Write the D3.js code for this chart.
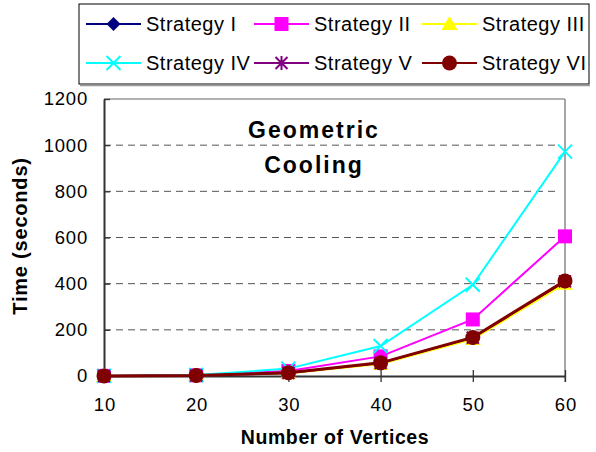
<!DOCTYPE html>
<html><head><meta charset="utf-8">
<script src="https://cdn.jsdelivr.net/npm/d3@7"></script>
<style>body{margin:0;background:#fff}svg{display:block;font-family:"Liberation Sans",Arial,sans-serif}</style>
</head><body><svg id="c" width="596" height="452"></svg>
<script>
const vertices = [10, 20, 30, 40, 50, 60];
const yTicks = [0, 200, 400, 600, 800, 1000, 1200];
const seriesNames = ["Strategy I", "Strategy II", "Strategy III", "Strategy IV", "Strategy V", "Strategy VI"];
const strategyI   = [0.5, 2, 13, 55, 165, 408];
const strategyII  = [0.5, 3, 22, 85, 245, 605];
const strategyIII = [0.5, 2, 12, 52, 160, 400];
const strategyIV  = [0.5, 4, 32, 130, 395, 972];
const strategyV   = [0.5, 2, 13, 56, 166, 410];
const strategyVI  = [0.5, 2, 14, 57, 167, 412];
const seriesValues = [strategyI, strategyII, strategyIII, strategyIV, strategyV, strategyVI];
const colors = ["#000080", "#FF00FF", "#FFFF00", "#00FFFF", "#800080", "#800000"];
const markers = ["diamond", "square", "triangle", "x", "star", "circle"];
const widths = [2, 2, 2, 2, 2, 3];

const svg = d3.select("#c");
const L = 104, R = 565, T = 99, B = 376;
const x = d3.scalePoint().domain(vertices).range([L, R]);
const y = d3.scaleLinear().domain([0, 1200]).range([B, T]);

// gridlines
svg.append("g").selectAll("line").data(yTicks.filter(d => d > 0 && d < 1200)).join("line")
  .attr("x1", L).attr("x2", R - 5).attr("y1", d => y(d)).attr("y2", d => y(d))
  .attr("stroke", "#555").attr("stroke-width", 1).attr("stroke-dasharray", "7,5");
// top and right border
svg.append("line").attr("x1", L).attr("x2", R).attr("y1", y(1200)).attr("y2", y(1200)).attr("stroke", "#999").attr("stroke-width", 1.5);
svg.append("line").attr("x1", R).attr("x2", R).attr("y1", y(1200)).attr("y2", B + 6).attr("stroke", "#888").attr("stroke-width", 1.5);

// axes
const yAxis = svg.append("g").attr("transform", `translate(${L},0)`)
  .call(d3.axisLeft(y).tickValues(yTicks).tickFormat(d3.format("d")).tickSizeInner(6).tickSizeOuter(0).tickPadding(10));
yAxis.selectAll(".tick line").attr("x2", 6);
const xAxis = svg.append("g").attr("transform", `translate(0,${B})`)
  .call(d3.axisBottom(x).tickSizeInner(6).tickSizeOuter(0).tickPadding(16));
xAxis.selectAll(".tick line").attr("y1", -6);
svg.selectAll(".domain").attr("stroke", "#333").attr("stroke-width", 2);
svg.selectAll(".tick line").attr("stroke", "#333").attr("stroke-width", 1.3);
svg.selectAll(".tick text").attr("font-size", 18.5).attr("letter-spacing", 0.8).attr("fill", "#000")
  .attr("font-family", "Liberation Sans, Arial, sans-serif");
xAxis.selectAll(".tick text").attr("dx", 0.4);

// axis titles
svg.append("text").attr("x", 335).attr("y", 444).attr("text-anchor", "middle")
  .attr("font-size", 19.5).attr("letter-spacing", 0.6).attr("font-weight", "bold").text("Number of Vertices");
svg.append("text").attr("transform", `translate(27,${236}) rotate(-90)`).attr("text-anchor", "middle")
  .attr("font-size", 20).attr("letter-spacing", 0.8).attr("font-weight", "bold").text("Time (seconds)");

// chart title
svg.append("text").attr("x", 314).attr("y", 138).attr("text-anchor", "middle")
  .attr("font-size", 23).attr("letter-spacing", 2).attr("font-weight", "bold").text("Geometric");
svg.append("text").attr("x", 314).attr("y", 173).attr("text-anchor", "middle")
  .attr("font-size", 23).attr("letter-spacing", 2).attr("font-weight", "bold").text("Cooling");

function drawMarker(g, type, color, cx, cy) {
  if (type === "diamond") {
    g.append("path").attr("d", `M${cx},${cy-7}L${cx+7},${cy}L${cx},${cy+7}L${cx-7},${cy}Z`).attr("fill", color);
  } else if (type === "square") {
    g.append("rect").attr("x", cx-7).attr("y", cy-7).attr("width", 14).attr("height", 14).attr("fill", color);
  } else if (type === "triangle") {
    g.append("path").attr("d", `M${cx},${cy-8}L${cx+8},${cy+6}L${cx-8},${cy+6}Z`).attr("fill", color);
  } else if (type === "x") {
    g.append("path").attr("d", `M${cx-7},${cy-7}L${cx+7},${cy+7}M${cx-7},${cy+7}L${cx+7},${cy-7}`).attr("stroke", color).attr("stroke-width", 2);
  } else if (type === "star") {
    g.append("path").attr("d", `M${cx-6},${cy-6}L${cx+6},${cy+6}M${cx-6},${cy+6}L${cx+6},${cy-6}M${cx},${cy-7}L${cx},${cy+7}`).attr("stroke", color).attr("stroke-width", 2);
  } else {
    g.append("circle").attr("cx", cx).attr("cy", cy).attr("r", 7.5).attr("fill", color);
  }
}

// series
const line = d3.line().x((d, i) => x(vertices[i])).y(d => y(d));
seriesValues.forEach((vals, s) => {
  const g = svg.append("g");
  g.append("path").attr("d", line(vals)).attr("fill", "none").attr("stroke", colors[s]).attr("stroke-width", widths[s]);
  vals.forEach((v, i) => drawMarker(g, markers[s], colors[s], x(vertices[i]), y(v)));
});

// legend
const lg = svg.append("g");
lg.append("rect").attr("x", 79).attr("y", 4).attr("width", 510).attr("height", 80).attr("fill", "#fff").attr("stroke", "#000").attr("stroke-width", 1);
lg.append("line").attr("x1", 80).attr("x2", 590).attr("y1", 85.5).attr("y2", 85.5).attr("stroke", "#999").attr("stroke-width", 1.5);
seriesNames.forEach((name, i) => {
  const col = i % 3, row = Math.floor(i / 3);
  const lx = 86 + col * 168, ly = 24 + row * 39;
  lg.append("line").attr("x1", lx).attr("x2", lx + 55).attr("y1", ly).attr("y2", ly).attr("stroke", colors[i]).attr("stroke-width", 2);
  drawMarker(lg, markers[i], colors[i], lx + 27.5, ly);
  lg.append("text").attr("x", lx + 60).attr("y", ly + 7).attr("font-size", 20).attr("letter-spacing", 0.5).text(name);
});
</script></body></html>
